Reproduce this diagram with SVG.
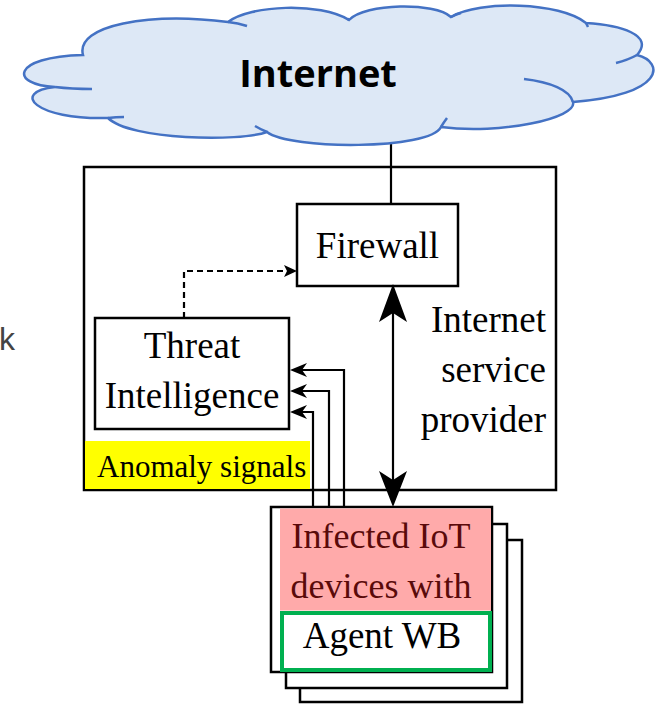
<svg xmlns="http://www.w3.org/2000/svg" width="664" height="704" viewBox="0 0 664 704">
<style>
.box{fill:#fff;stroke:#000;stroke-width:2.5}
.ln{fill:none;stroke:#000;stroke-width:2.2}
.hd{fill:#000;stroke:none}
.serif{font-family:"Liberation Serif","Times New Roman",serif;fill:#000}
.cloud{fill:#dde8f6;stroke:#4472c4;stroke-width:2.5}
.cin{fill:none;stroke:#4472c4;stroke-width:2.5}
</style>
<rect width="664" height="704" fill="#fff"/>
<text x="-1" y="350" font-family="Liberation Sans, Arial, sans-serif" font-size="32" fill="#444">k</text>
<g id="connectors">
<line class="ln" x1="391" y1="138" x2="391" y2="205"/>
</g>
<g id="internet">
<path class="cloud" d="M55,87 C10,85 10,57 83,55 C75,25 150,12 228,22 C250,5 320,2 349,20 C365,3 435,2 451,17 C480,0 560,2 586,23 C620,25 655,35 637,55 C665,62 665,95 573,102 C578,118 500,135 441,127 C430,150 290,150 267,132 C240,142 130,140 108,118 C35,120 10,92 55,87 Z"/>
<path class="cin" d="M55,87 Q72,89 92,89 M108,118 Q116,117 124,117 M267,132 Q260,129 255,126 M441,127 Q444,122 447,118 M573,102 C570,90 550,82 524,79 M637,55 Q628,60 616,63 M586,23 Q587,25 588,27 M228,22 Q238,23 247,26 M349,20 Q347,18 349,20 M451,17 Q456,14 461,13"/>
<text x="318" y="87" text-anchor="middle" font-family="Open Sans, Liberation Sans, sans-serif" font-weight="bold" font-size="38" fill="#000">Internet</text>
</g>
<g id="isp">
<rect x="84" y="167" width="472" height="323" fill="none" stroke="#000" stroke-width="2.5"/>
<rect x="85" y="441" width="225" height="48" fill="#ffff00"/>
<text class="serif" x="97" y="477" font-size="31">Anomaly signals</text>
<text class="serif" x="546" y="332" font-size="37" text-anchor="end">Internet</text>
<text class="serif" x="546" y="382" font-size="37" text-anchor="end">service</text>
<text class="serif" x="546" y="432" font-size="37" text-anchor="end">provider</text>
</g>
<g id="firewall">
<rect class="box" x="297" y="204" width="161" height="82"/>
<text class="serif" x="377.5" y="258" font-size="37" text-anchor="middle">Firewall</text>
</g>
<g id="threat">
<rect class="box" x="95" y="318" width="194" height="111"/>
<text class="serif" x="192" y="358" font-size="37" text-anchor="middle">Threat</text>
<text class="serif" x="192" y="408" font-size="37" text-anchor="middle">Intelligence</text>
</g>
<g id="iot">
<rect class="box" x="300" y="540" width="222" height="162"/>
<rect class="box" x="286" y="524" width="221" height="164"/>
<rect class="box" x="271" y="507" width="221" height="165"/>
<rect x="280" y="508.5" width="211" height="102" fill="#ffaaaa"/>
<rect x="282" y="613" width="208" height="57" fill="#fff" stroke="#00b050" stroke-width="4"/>
<text class="serif" x="381" y="548" font-size="36" text-anchor="middle" fill="#5a0a0a" style="fill:#5a0a0a">Infected IoT</text>
<text class="serif" x="381" y="598" font-size="36" text-anchor="middle" style="fill:#5a0a0a">devices with</text>
<text class="serif" x="382" y="648" font-size="37" text-anchor="middle">Agent WB</text>
</g>
<g id="links">
<path class="ln" d="M184,318 V271 H287" stroke-dasharray="6 4"/>
<path class="hd" d="M297,271 L284,265 L287,271 L284,277 Z"/>
<line class="ln" x1="393" y1="310" x2="393" y2="485"/>
<path class="hd" d="M393,284 L407,322 L393,313 L379,322 Z"/>
<path class="hd" d="M393,507 L407,471 L393,480 L379,471 Z"/>
<path class="ln" d="M344,507 V370 H298 M329,507 V391 H298 M313,507 V412 H298"/>
<path class="hd" d="M290,370 L307,363 L302,370 L307,377 Z M290,391 L307,384 L302,391 L307,398 Z M290,412 L307,405 L302,412 L307,419 Z"/>
</g>
</svg>
